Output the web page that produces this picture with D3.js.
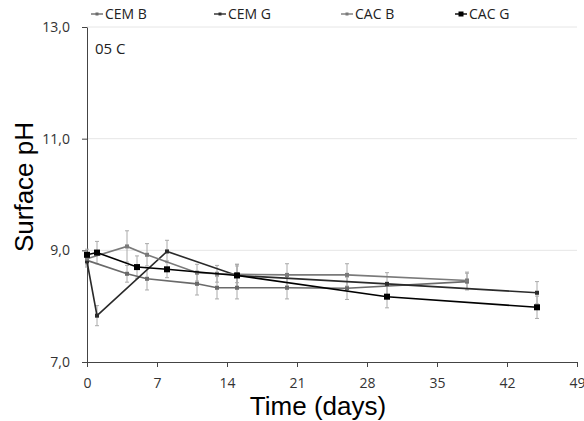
<!DOCTYPE html>
<html>
<head>
<meta charset="utf-8">
<script src="https://cdn.jsdelivr.net/npm/d3@7"></script>
<style>
  body { margin: 0; background: #fff; }
  text { font-family: "Open Sans", "DejaVu Sans", sans-serif; }
</style>
</head>
<body>
<div id="chart"></div>
<script>
// data
var cemBDays = [0, 4, 6, 11, 13, 15, 20, 26, 38];
var cemBVals = [8.82, 8.58, 8.49, 8.40, 8.33, 8.33, 8.33, 8.32, 8.44];
var cemBErr  = [0.10, 0.15, 0.20, 0.20, 0.20, 0.20, 0.20, 0.20, 0.15];

var cemGDays = [0, 1, 8, 15, 30, 45];
var cemGVals = [8.80, 7.83, 8.98, 8.55, 8.40, 8.24];
var cemGErr  = [0.10, 0.18, 0.20, 0.20, 0.20, 0.20];

var cacBDays = [0, 4, 6, 11, 13, 15, 20, 26, 38];
var cacBVals = [8.85, 9.07, 8.92, 8.60, 8.58, 8.57, 8.56, 8.56, 8.46];
var cacBErr  = [0.10, 0.28, 0.20, 0.15, 0.15, 0.15, 0.20, 0.20, 0.15];

var cacGDays = [0, 1, 5, 8, 15, 30, 45];
var cacGVals = [8.92, 8.96, 8.70, 8.66, 8.55, 8.17, 7.98];
var cacGErr  = [0.10, 0.20, 0.20, 0.15, 0.20, 0.20, 0.20];

var xTicks = [0, 7, 14, 21, 28, 35, 42, 49];
var yTicks = [7, 9, 11, 13];

function makeSeries(name, days, vals, errs, color, marker) {
    return {
        name: name, color: color, marker: marker,
        values: days.map(function(d, i) { return {day: d, ph: vals[i], err: errs[i]}; })
    };
}

var series = [
    makeSeries("CEM B", cemBDays, cemBVals, cemBErr, "#6a6a6a", "dot"),
    makeSeries("CEM G", cemGDays, cemGVals, cemGErr, "#2a2a2a", "dot"),
    makeSeries("CAC B", cacBDays, cacBVals, cacBErr, "#7a7a7a", "dot"),
    makeSeries("CAC G", cacGDays, cacGVals, cacGErr, "#000000", "square")
];

var width = 584, height = 421;
var margin = {top: 27, right: 7, bottom: 59, left: 87};

var svg = d3.select("#chart").append("svg")
    .attr("width", width)
    .attr("height", height);

var x = d3.scaleLinear()
    .domain([0, 49])
    .range([margin.left, width - margin.right]);

var y = d3.scaleLinear()
    .domain([7, 13])
    .range([height - margin.bottom, margin.top]);

// gridlines
svg.append("g")
    .selectAll("line")
    .data(yTicks.slice(1))
    .join("line")
    .attr("x1", x(0))
    .attr("x2", x(49))
    .attr("y1", d => y(d))
    .attr("y2", d => y(d))
    .attr("stroke", "#e6e6e6")
    .attr("stroke-width", 1);

var fmt = function(d) { return d3.format(".1f")(d).replace(".", ","); };

// y axis
var yAxis = svg.append("g")
    .attr("transform", "translate(" + x(0) + ",0)")
    .call(d3.axisLeft(y).tickValues(yTicks).tickSize(5).tickPadding(12).tickSizeOuter(0).tickFormat(fmt));
yAxis.select(".domain").attr("stroke", "#444");
yAxis.selectAll(".tick line").attr("stroke", "#444");
yAxis.selectAll(".tick text")
    .attr("font-size", 14)
    .attr("fill", "#333")
    .attr("font-family", "Open Sans, sans-serif");

// x axis
var xAxis = svg.append("g")
    .attr("transform", "translate(0," + y(7) + ")")
    .call(d3.axisBottom(x).tickValues(xTicks).tickSize(5).tickPadding(11).tickSizeOuter(0));
xAxis.select(".domain").attr("stroke", "#444");
xAxis.selectAll(".tick line").attr("stroke", "#444");
xAxis.selectAll(".tick text")
    .attr("font-size", 14)
    .attr("fill", "#333")
    .attr("font-family", "Open Sans, sans-serif");

// axis titles
svg.append("text")
    .attr("x", 318)
    .attr("y", 415)
    .attr("text-anchor", "middle")
    .attr("font-size", 26)
    .style("font-family", "Liberation Sans, Arial, sans-serif")
    .text("Time (days)");

svg.append("text")
    .attr("transform", "translate(33,187) rotate(-90)")
    .attr("text-anchor", "middle")
    .attr("font-size", 26)
    .style("font-family", "Liberation Sans, Arial, sans-serif")
    .text("Surface pH");

svg.append("text")
    .attr("x", 95)
    .attr("y", 54)
    .attr("font-size", 15)
    .attr("fill", "#222")
    .text("05 C");

// error bars
var errG = svg.append("g");
series.forEach(function(s) {
    var g = errG.append("g");
    g.selectAll("line.v")
        .data(s.values)
        .join("line")
        .attr("class", "v")
        .attr("x1", d => x(d.day)).attr("x2", d => x(d.day))
        .attr("y1", d => y(d.ph + d.err)).attr("y2", d => y(d.ph - d.err))
        .attr("stroke", "#aaa").attr("stroke-width", 1);
    [1, -1].forEach(function(sign) {
        g.selectAll("line.c" + (sign > 0 ? "t" : "b"))
            .data(s.values)
            .join("line")
            .attr("class", "c" + (sign > 0 ? "t" : "b"))
            .attr("x1", d => x(d.day) - 2).attr("x2", d => x(d.day) + 2)
            .attr("y1", d => y(d.ph + sign * d.err)).attr("y2", d => y(d.ph + sign * d.err))
            .attr("stroke", "#aaa").attr("stroke-width", 1);
    });
});

// lines
var line = d3.line()
    .x(d => x(d.day))
    .y(d => y(d.ph));

series.forEach(function(s) {
    svg.append("path")
        .datum(s.values)
        .attr("fill", "none")
        .attr("stroke", s.color)
        .attr("stroke-width", 1.6)
        .attr("d", line);

    var ms = s.marker === "square" ? 6 : 4;
    svg.append("g").selectAll("rect")
        .data(s.values)
        .join("rect")
        .attr("x", d => x(d.day) - ms / 2)
        .attr("y", d => y(d.ph) - ms / 2)
        .attr("width", ms).attr("height", ms)
        .attr("fill", s.color);
});

// legend
var legendX = [91, 214, 341, 455];
var legend = svg.append("g");
series.forEach(function(s, i) {
    var lg = legend.append("g").attr("transform", "translate(" + legendX[i] + ",14)");
    lg.append("line")
        .attr("x1", 0).attr("x2", 12)
        .attr("stroke", s.color).attr("stroke-width", 1.4);
    var ms = s.marker === "square" ? 5 : 3;
    lg.append("rect")
        .attr("x", 6 - ms / 2).attr("y", -ms / 2)
        .attr("width", ms).attr("height", ms)
        .attr("fill", s.color);
    lg.append("text")
        .attr("x", 14)
        .attr("y", 5)
        .attr("font-size", 14)
        .attr("fill", "#222")
        .text(s.name);
});
</script>
</body>
</html>
